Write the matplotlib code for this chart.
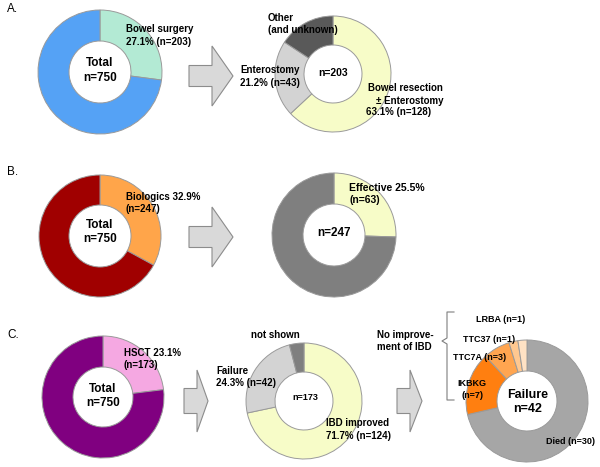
import matplotlib
matplotlib.use("Agg")
import matplotlib.pyplot as plt
import matplotlib.patches as mpatches

# ______________________________ DATA ______________________________
# A. bowel surgery
a_total = [203, 547]              # bowel surgery, no surgery
a_surgery = [128, 43, 32]         # resection, enterostomy, other
# B. biologics
b_total = [247, 503]              # biologics, none
b_bio = [63, 184]                 # effective, not effective
# C. HSCT
c_total = [173, 577]              # HSCT, none
c_hsct = [124, 42, 7]             # improved, failure, not shown
c_fail = [30, 7, 3, 1, 1]         # died, IKBKG, TTC7A, TTC37, LRBA

W, H = 600, 467
plt.rcParams['font.family'] = ['Liberation Sans', 'DejaVu Sans']

fig = plt.figure(figsize=(6, 4.67), dpi=100)
ax = fig.add_axes([0, 0, 1, 1])


def donut(vals, colors, cx, cy, r, r_in):
    ax.pie(vals, colors=colors, center=(cx, H - cy), radius=r,
           startangle=90, counterclock=False,
           wedgeprops=dict(width=r - r_in, edgecolor='#9a9a9a', linewidth=0.7))


def txt(x, y, s, size=7, ha='left', weight='bold', va='center', **kw):
    kw.setdefault('linespacing', 1.3)
    ax.text(x, H - y, s, fontsize=size, ha=ha, va=va, fontweight=weight, **kw)


def arrow(x0, x1, yc, body_h, head_h, head_len):
    ar = mpatches.FancyArrow(x0, H - yc, x1 - x0, 0, width=body_h,
                             head_width=head_h, head_length=head_len,
                             length_includes_head=True,
                             facecolor='#d9d9d9', edgecolor='#8c8c8c', linewidth=0.8)
    ax.add_patch(ar)


# ---- A ----
donut(a_total, ['#b3ead4', '#55a2f5'], 100, 72, 62, 31)
donut(a_surgery, ['#f7fcc8', '#d3d3d3', '#595959'], 333, 74, 58, 29)
arrow(189, 233, 76, 21, 60, 21)
txt(7, 9, 'A.', size=8.5, weight='normal')
txt(126, 35.5, 'Bowel surgery\n27.1% (n=203)')
txt(100, 70.5, 'Total\nn=750', size=8.5, ha='center')
txt(268, 24, 'Other\n(and unknown)')
txt(240, 76.5, 'Enterostomy\n21.2% (n=43)')
txt(333, 73, 'n=203', size=7.5, ha='center')
txt(443, 94.5, 'Bowel resection\n± Enterostomy', ha='right', multialignment='right')
txt(366, 112, '63.1% (n=128)')

# ---- B ----
donut(b_total, ['#ffa54a', '#a00000'], 100, 236, 61, 31)
donut(b_bio, ['#f7fcc8', '#7f7f7f'], 334, 235, 62, 31)
arrow(189, 233, 237, 21, 60, 21)
txt(7, 172, 'B.', size=8.5, weight='normal')
txt(126, 203, 'Biologics 32.9%\n(n=247)')
txt(100, 232, 'Total\nn=750', size=8.5, ha='center')
txt(349, 194, 'Effective 25.5%\n(n=63)', size=7.5)
txt(334, 233, 'n=247', size=8.5, ha='center')

# ---- C ----
donut(c_total, ['#f5a8e2', '#800080'], 103, 397, 61, 30)
donut(c_hsct, ['#f7fcc8', '#d3d3d3', '#7f7f7f'], 304, 401, 58, 29)
donut(c_fail, ['#a6a6a6', '#ff7f10', '#ffa550', '#ffc890', '#ffe2c4'],
      527, 401, 61, 30)
arrow(184, 208, 401, 25, 62, 11)
arrow(397, 422, 401, 25, 62, 12)
txt(7, 335, 'C.', size=8.5, weight='normal')
txt(124, 359, 'HSCT 23.1%\n(n=173)')
txt(103, 396, 'Total\nn=750', size=8.5, ha='center')
txt(216, 377, 'Failure\n24.3% (n=42)')
txt(251, 335, 'not shown')
txt(305, 397, 'n=173', size=6.5, ha='center')
txt(326, 429.5, 'IBD improved\n71.7% (n=124)')
txt(377, 341, 'No improve-\nment of IBD')
txt(476, 320, 'LRBA (n=1)', size=6.5)
txt(463, 340, 'TTC37 (n=1)', size=6.5)
txt(453, 358, 'TTC7A (n=3)', size=6.5)
txt(472, 389.5, 'IKBKG\n(n=7)', size=6.5, ha='center')
txt(528, 402, 'Failure\nn=42', size=9, ha='center', linespacing=1.15)
txt(546, 441, 'Died (n=30)', size=6.5)

# bracket
bx = [454, 447, 447, 442, 447, 447, 454]
by = [312, 312, 338, 341, 344, 400, 400]
ax.plot(bx, [H - v for v in by], color='#7f7f7f', linewidth=0.8)

ax.set_xlim(0, W)
ax.set_ylim(0, H)
ax.set_aspect('auto')
ax.axis('off')

fig.savefig('out.png', dpi=100)
